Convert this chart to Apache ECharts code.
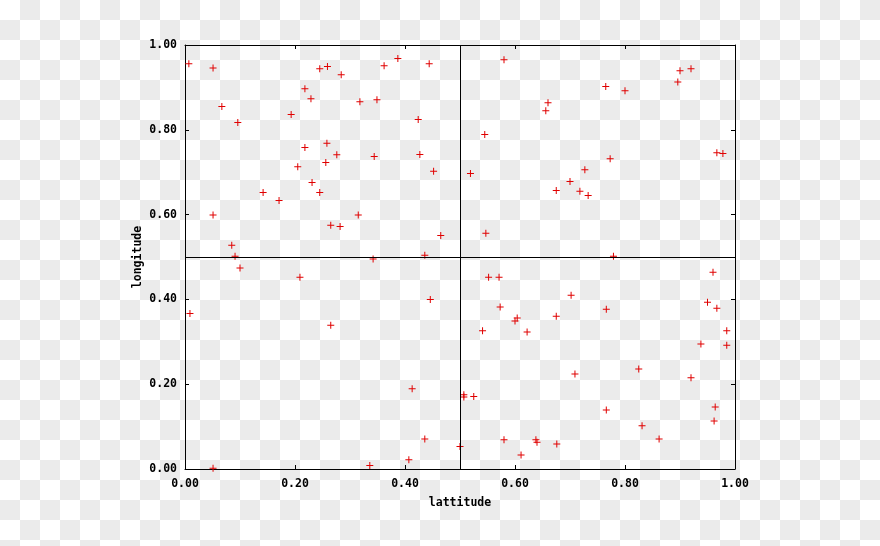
<!DOCTYPE html>
<html>
<head>
<meta charset="utf-8">
<script src="https://cdn.jsdelivr.net/npm/echarts@6/dist/echarts.min.js"></script>
<style>
html,body{margin:0;padding:0;}
body{
  width:880px;height:546px;overflow:hidden;
  background-color:#ffffff;
  background-image:conic-gradient(#ebebeb 25%, #ffffff 0 50%, #ebebeb 0 75%, #ffffff 0);
  background-size:40px 40px;
}
#chart{width:880px;height:546px;}
</style>
</head>
<body>
<div id="chart"></div>
<script>
const xTitle = 'lattitude';
const yTitle = 'longitude';
const tickValues = [0, 0.2, 0.4, 0.6, 0.8, 1.0];
const crossX = 0.5;
const crossY = 0.5;
const lattitude = [
  0.007,0.051,0.067,0.096,0.193,0.218,0.229,0.245,0.259,0.284,
  0.318,0.349,0.362,0.387,0.444,0.424,0.218,0.258,0.276,0.205,
  0.256,0.344,0.427,0.452,0.231,0.142,0.171,0.245,0.051,0.315,
  0.265,0.282,0.465,0.085,0.091,0.100,0.342,0.436,
  0.209,0.009,0.265,0.446,0.413,0.436,0.500,0.407,0.336,0.051,
  0.580,0.900,0.920,0.896,0.765,0.800,0.660,0.656,0.545,0.967,
  0.978,0.773,0.519,0.727,0.700,0.675,0.718,0.733,0.547,0.779,
  0.960,0.552,0.571,0.702,0.950,0.967,0.573,0.766,0.675,0.604,
  0.600,0.541,0.622,0.985,0.938,0.985,0.825,0.709,0.920,0.507,
  0.507,0.525,0.964,0.766,0.962,0.831,0.862,0.580,0.638,0.640,
  0.676,0.611
];
const longitude = [
  0.956,0.946,0.855,0.817,0.836,0.897,0.873,0.944,0.949,0.930,
  0.866,0.871,0.951,0.968,0.956,0.824,0.758,0.768,0.741,0.713,
  0.723,0.737,0.742,0.702,0.676,0.652,0.633,0.652,0.599,0.599,
  0.575,0.572,0.551,0.528,0.502,0.474,0.495,0.504,
  0.452,0.367,0.339,0.400,0.189,0.071,0.053,0.022,0.008,0.002,
  0.965,0.939,0.944,0.913,0.902,0.892,0.864,0.845,0.789,0.746,
  0.744,0.732,0.697,0.706,0.678,0.657,0.655,0.645,0.556,0.502,
  0.464,0.452,0.452,0.410,0.393,0.379,0.382,0.377,0.360,0.356,
  0.349,0.326,0.323,0.326,0.295,0.292,0.236,0.224,0.215,0.175,
  0.170,0.171,0.146,0.139,0.113,0.102,0.071,0.069,0.069,0.063,
  0.059,0.033
];

const points = lattitude.map((x, i) => [x, longitude[i]]);
const font = '"DejaVu Sans Mono", "Liberation Mono", monospace';
const labelStyle = {color:'#000', fontFamily:font, fontWeight:'bold', fontSize:11.5};
const axisMin = tickValues[0], axisMax = tickValues[tickValues.length-1];
const interval = tickValues[1] - tickValues[0];
const lineStyle = {color:'#000', width:1};

function mkAxis(extra){
  return Object.assign({
    type:'value', min:axisMin, max:axisMax, interval:interval,
    axisLine:{show:true, onZero:false, lineStyle:lineStyle},
    axisTick:{show:true, inside:true, length:4, lineStyle:lineStyle},
    splitLine:{show:false},
    axisLabel:{show:false}
  }, extra);
}

const chart = echarts.init(document.getElementById('chart'), null, {renderer:'canvas'});
chart.setOption({
  animation:false,
  backgroundColor:'transparent',
  grid:{left:185, top:45, width:550, height:424, containLabel:false},
  xAxis:[
    mkAxis({position:'bottom', name:xTitle, nameLocation:'middle', nameGap:28,
      nameMoveOverlap:false,
      nameTextStyle:labelStyle,
      axisLabel:{show:true, margin:9, formatter:v => v.toFixed(2), ...labelStyle}}),
    mkAxis({position:'top'})
  ],
  yAxis:[
    mkAxis({position:'left', name:yTitle, nameLocation:'middle', nameGap:41,
      nameMoveOverlap:false,
      nameTextStyle:labelStyle,
      axisLabel:{show:true, margin:8, formatter:v => v.toFixed(2), ...labelStyle}}),
    mkAxis({position:'right'})
  ],
  series:[{
    type:'scatter',
    xAxisIndex:0, yAxisIndex:0,
    data:points,
    symbol:'path://M0,3h7v1h-7z M3,0h1v7h-1z',
    symbolSize:7,
    itemStyle:{color:'#e00000', opacity:1},
    markLine:{
      silent:true, symbol:'none', animation:false,
      label:{show:false},
      lineStyle:{color:'#000', width:1, type:'solid'},
      data:[{xAxis:crossX}, {yAxis:crossY}]
    }
  }]
});
</script>
</body>
</html>
